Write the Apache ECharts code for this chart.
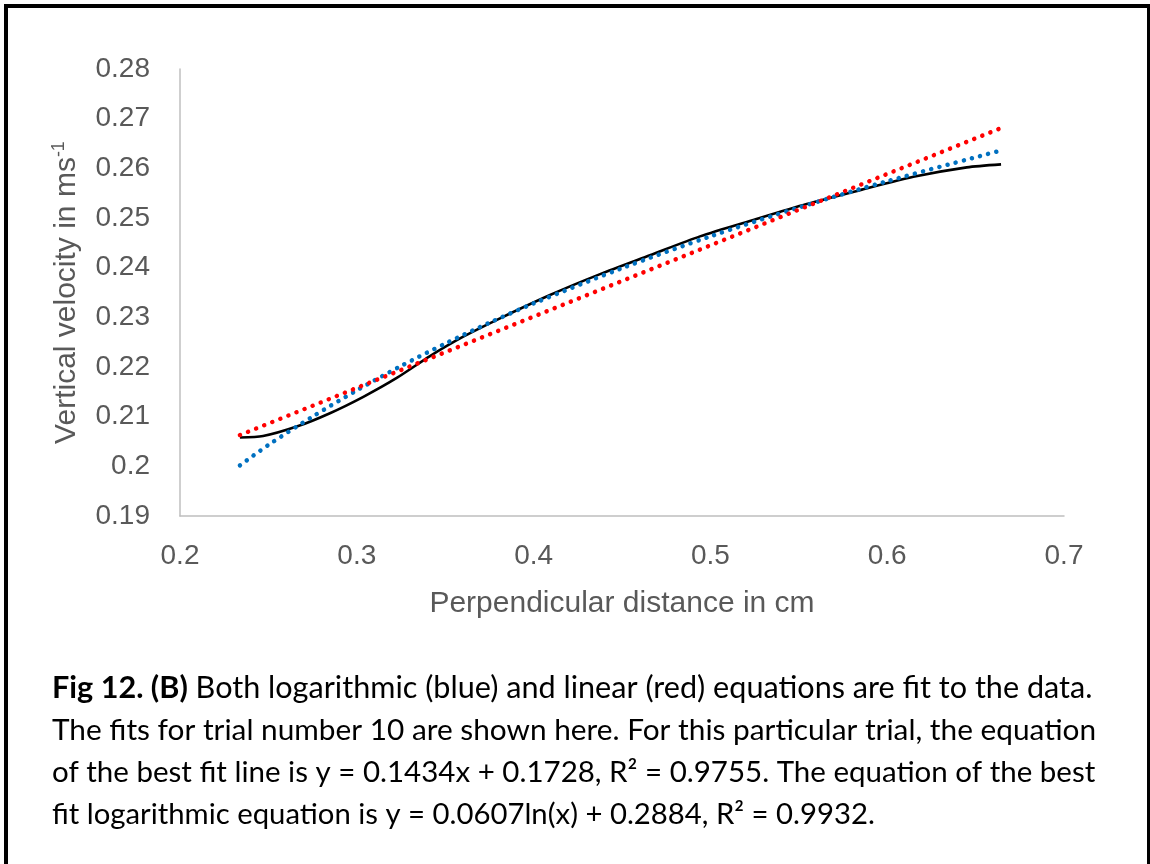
<!DOCTYPE html>
<html>
<head>
<meta charset="utf-8">
<script src="https://cdn.jsdelivr.net/npm/echarts@6/dist/echarts.min.js"></script>
<style>
html,body{margin:0;padding:0;background:#fff;}
#chart{width:1150px;height:864px;}
</style>
</head>
<body>
<div id="chart"></div>
<script>
// Measured data curve (black)
const curveX = [0.2339, 0.247, 0.266, 0.2848, 0.3037, 0.3226, 0.3414, 0.3602, 0.381, 0.4093, 0.4376, 0.4658, 0.4941, 0.5243, 0.5545, 0.5846, 0.6148, 0.645, 0.6644];
const curveY = [0.2058, 0.2061, 0.2080, 0.2107, 0.2140, 0.2178, 0.2222, 0.2261, 0.2298, 0.2345, 0.2387, 0.2425, 0.2463, 0.2496, 0.2528, 0.2556, 0.2583, 0.2602, 0.2608];
// Logarithmic fit (blue dotted)
const logX = [0.2339, 0.25, 0.275, 0.3, 0.325, 0.35, 0.375, 0.4, 0.45, 0.5, 0.55, 0.6, 0.6644];
const logY = [0.2002, 0.2043, 0.2100, 0.2153, 0.2202, 0.2247, 0.2289, 0.2328, 0.2399, 0.2463, 0.2521, 0.2574, 0.2636];
// Linear fit (red dotted)
const linX = [0.2339, 0.6644];
const linY = [0.2063, 0.2681];
// Axes
const xTicks = [0.2, 0.3, 0.4, 0.5, 0.6, 0.7];
const yTicks = [0.19, 0.2, 0.21, 0.22, 0.23, 0.24, 0.25, 0.26, 0.27, 0.28];
const xTitle = 'Perpendicular distance in cm';
const yTitle = 'Vertical velocity in ms';
const yTitleSup = '-1';
// Caption
const captionLines = [
  '{b|Fig 12. (B)} Both logarithmic (blue) and linear (red) equations are fit to the data.',
  'The fits for trial number 10 are shown here. For this particular trial, the equation',
  'of the best fit line is y = 0.1434x + 0.1728, R² = 0.9755. The equation of the best',
  'fit logarithmic equation is y = 0.0607ln(x) + 0.2884, R² = 0.9932.'
];

const zip = (xs, ys) => xs.map((x, i) => [x, ys[i]]);
const chart = echarts.init(document.getElementById('chart'), null, {renderer: 'canvas'});

const captionFont = 'Lato, "Open Sans", sans-serif';
const captionSizes = [30.6, 29.8, 29.5, 29.3];
const captionGraphics = captionLines.map((t, i) => ({
  type: 'text',
  left: 52,
  top: 673 + i * 42 + (30.5 - captionSizes[i]) * 0.6,
  style: {
    text: t,
    fill: '#000',
    font: captionSizes[i] + 'px ' + captionFont,
    rich: {
      b: {fontWeight: 'bold', fontSize: captionSizes[i], fontFamily: captionFont, fill: '#000'}
    }
  }
}));

const option = {
  backgroundColor: '#fff',
  animation: false,
  grid: {left: 180, right: 86, top: 69, bottom: 348, containLabel: false},
  xAxis: {
    type: 'value',
    min: xTicks[0], max: xTicks[xTicks.length - 1], interval: 0.1,
    splitLine: {show: false},
    axisTick: {show: false},
    axisLine: {show: true, onZero: false, lineStyle: {color: '#BFBFBF', width: 1.5}},
    axisLabel: {color: '#595959', fontSize: 28, fontFamily: 'Liberation Sans, Arial, sans-serif', margin: 26,
      formatter: v => String(+v.toFixed(2))},
    name: xTitle,
    nameLocation: 'middle',
    nameGap: 73,
    nameTextStyle: {color: '#595959', fontSize: 30, fontFamily: 'Liberation Sans, Arial, sans-serif'}
  },
  yAxis: {
    type: 'value',
    min: yTicks[0], max: yTicks[yTicks.length - 1], interval: 0.01,
    splitLine: {show: false},
    axisTick: {show: false},
    axisLine: {show: true, onZero: false, lineStyle: {color: '#BFBFBF', width: 1.5}},
    axisLabel: {color: '#595959', fontSize: 28, fontFamily: 'Liberation Sans, Arial, sans-serif', margin: 30,
      formatter: v => String(+v.toFixed(2))},
    name: '{a|' + yTitle + '}{s|' + yTitleSup + '}',
    nameLocation: 'middle',
    nameRotate: 90,
    nameGap: 96,
    nameTextStyle: {
      color: '#595959',
      rich: {
        a: {fontSize: 30, lineHeight: 34, fontFamily: 'Liberation Sans, Arial, sans-serif', color: '#595959'},
        s: {fontSize: 18, lineHeight: 34, fontFamily: 'Liberation Sans, Arial, sans-serif', color: '#595959', verticalAlign: 'top', padding: [0, 0, 12, 0]}
      }
    }
  },
  series: [
    {
      name: 'data', type: 'line', data: zip(curveX, curveY), smooth: 0.25,
      showSymbol: false, symbol: 'none',
      lineStyle: {color: '#000000', width: 2.6}, z: 2
    },
    {
      name: 'log fit', type: 'line', data: zip(logX, logY), smooth: 0.3,
      showSymbol: false, symbol: 'none',
      lineStyle: {color: '#0070C0', width: 4.5, type: [0.1, 8.3], cap: 'round'}, z: 3
    },
    {
      name: 'linear fit', type: 'line', data: zip(linX, linY),
      showSymbol: false, symbol: 'none',
      lineStyle: {color: '#FF0000', width: 4.5, type: [0.1, 8.6], cap: 'round'}, z: 4
    }
  ],
  graphic: [
    {type: 'rect', shape: {x: 6, y: 6, width: 1143, height: 900}, style: {fill: 'none', stroke: '#000', lineWidth: 4}, z: 100}
  ].concat(captionGraphics)
};
chart.setOption(option);
</script>
</body>
</html>
